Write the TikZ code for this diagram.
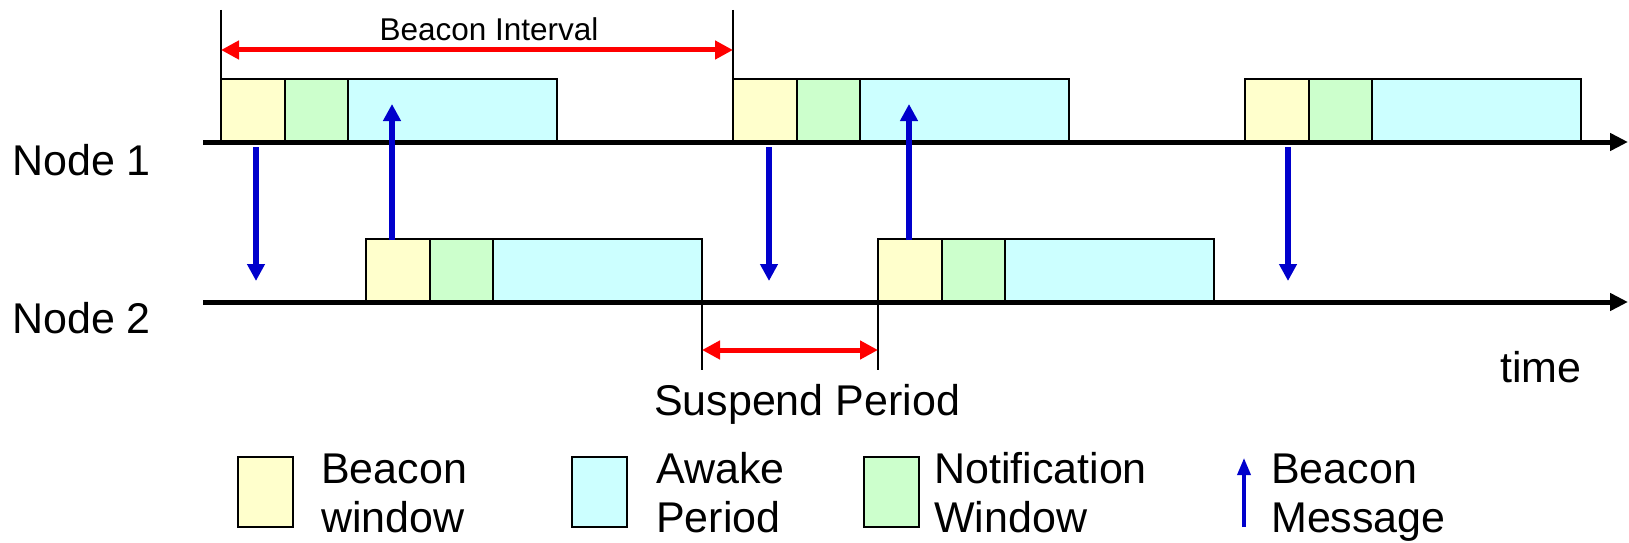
\documentclass[tikz,border=0pt]{standalone}
\usepackage{fontspec}
\setmainfont{Liberation Sans}
\usetikzlibrary{arrows.meta}
\definecolor{bwy}{HTML}{FFFFCC}
\definecolor{nwg}{HTML}{CCFFCC}
\definecolor{awc}{HTML}{CCFFFF}
\definecolor{bblue}{HTML}{0000CC}
\begin{document}
\begin{tikzpicture}[x=1pt,y=-1pt,
  blk/.style={draw=black,line width=1.8pt,inner sep=0pt,outer sep=0pt,minimum height=63pt,anchor=south west},
  bwin/.style={blk,fill=bwy,minimum width=64pt},
  nwin/.style={blk,fill=nwg,minimum width=63pt},
  awk/.style={blk,fill=awc,minimum width=209pt},
  legbox/.style={draw=black,line width=1.8pt,inner sep=0pt,outer sep=0pt,minimum width=55pt,minimum height=70pt,anchor=north west},
  axisline/.style={line width=5pt,-{Triangle[length=18pt,width=17pt]}},
  msg/.style={draw=bblue,line width=5.5pt,-{Triangle[length=17pt,width=17pt]}},
  legmsg/.style={draw=bblue,line width=3.5pt,-{Triangle[length=17pt,width=13pt]}},
  span/.style={draw=red,line width=5pt,{Triangle[length=18pt,width=18pt]}-{Triangle[length=18pt,width=18pt]}},
  tick/.style={line width=1.8pt},
  lbl/.style={inner sep=0pt,anchor=base west,font=\fontsize{43}{51}\selectfont},
  small/.style={inner sep=0pt,anchor=base,font=\fontsize{31.5}{38}\selectfont}
]
\useasboundingbox (0,0) rectangle (1629,543);

% blocks
\foreach \n/\x/\y in {a/221/142, b/733/142, c/1245/142, d/366/302, e/878/302} {
  \node[bwin] (\n y) at (\x,\y) {};
  \node[nwin] (\n g) at (\n y.south east) {};
  \node[awk] (\n c) at (\n g.south east) {};
}

% time axes
\coordinate (ax1s) at (203,142);
\coordinate (ax1e) at (1628,142);
\coordinate (ax2s) at (203,302);
\coordinate (ax2e) at (1628,302);
\draw[axisline] (ax1s) -- (ax1e);
\draw[axisline] (ax2s) -- (ax2e);

% labels
\node[lbl] (n1) at (12,175) {Node 1};
\node[lbl] (n2) at (12,333) {Node 2};
\node[lbl] (tm) at (1500,382) {time};

% beacon interval
\coordinate (bt1) at (221,10);
\coordinate (bt2) at (733,10);
\draw[tick] (bt1) -- (ay.north west);
\draw[tick] (bt2) -- (by.north west);
\coordinate (bi1) at (221,50);
\coordinate (bi2) at (733,50);
\draw[span] (bi1) -- (bi2);
\node[small] (bil) at (489,41) {Beacon Interval};

% suspend period
\coordinate (st1) at (702,370);
\coordinate (st2) at (878,370);
\draw[tick] (dc.south east) -- (st1);
\draw[tick] (ey.south west) -- (st2);
\coordinate (sp1) at (702,350);
\coordinate (sp2) at (878,350);
\draw[span] (sp1) -- (sp2);
\node[inner sep=0pt,anchor=base,font=\fontsize{43}{51}\selectfont] (spl) at (807,415) {Suspend Period};

% beacon messages
\coordinate (m1a) at (256,147);  \coordinate (m1b) at (256,281);
\coordinate (m2a) at (392,240);  \coordinate (m2b) at (392,104);
\coordinate (m3a) at (769,147);  \coordinate (m3b) at (769,281);
\coordinate (m4a) at (909,240);  \coordinate (m4b) at (909,104);
\coordinate (m5a) at (1288,147); \coordinate (m5b) at (1288,281);
\draw[msg] (m1a) -- (m1b);
\draw[msg] (m2a) -- (m2b);
\draw[msg] (m3a) -- (m3b);
\draw[msg] (m4a) -- (m4b);
\draw[msg] (m5a) -- (m5b);

% legend
\node[legbox,fill=bwy] (lb1) at (238,457) {};
\node[lbl] (lt1a) at (321,483) {Beacon};
\node[lbl] (lt1b) at (321,532) {window};
\node[legbox,fill=awc] (lb2) at (572,457) {};
\node[lbl] (lt2a) at (656,483) {Awake};
\node[lbl] (lt2b) at (656,532) {Period};
\node[legbox,fill=nwg] (lb3) at (864,457) {};
\node[lbl] (lt3a) at (934,483) {Notification};
\node[lbl] (lt3b) at (934,532) {Window};
\coordinate (lm1) at (1244,527);
\coordinate (lm2) at (1244,458);
\draw[legmsg] (lm1) -- (lm2);
\node[lbl] (lt4a) at (1271,483) {Beacon};
\node[lbl] (lt4b) at (1271,532) {Message};
\end{tikzpicture}
\end{document}
